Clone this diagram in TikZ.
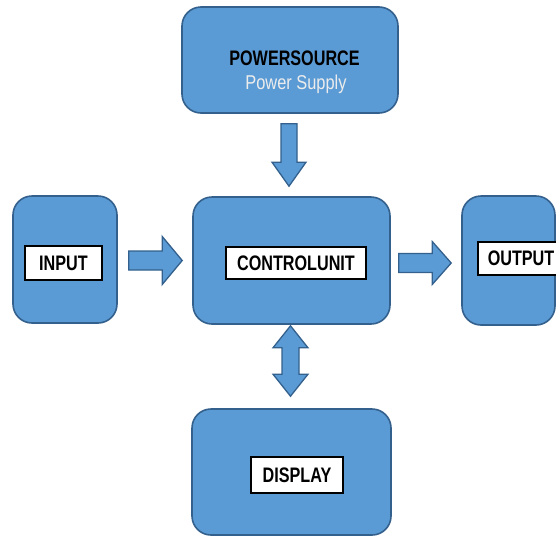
\documentclass[tikz,border=0pt]{standalone}
\usepackage{fontspec}
\setmainfont{Liberation Sans}
\newfontfamily\lblfont[FakeStretch=0.77]{Liberation Sans}
\newfontfamily\subfont[FakeStretch=0.82]{Liberation Sans}
\usetikzlibrary{calc}

\definecolor{boxblue}{HTML}{5B9BD5}
\definecolor{boxedge}{HTML}{33608C}
\definecolor{subgray}{HTML}{ECECEC}

\tikzset{
  x=1pt, y=-1pt,
  block/.style={draw=boxedge, fill=boxblue, line width=1.6pt,
    rounded corners=19pt, inner sep=0pt},
  tagbox/.style={draw=black, fill=white, line width=1.6pt, inner sep=0pt,
    font=\lblfont\bfseries\fontsize{21}{25}\selectfont, text=black},
  blockarrow/.style={draw=boxedge, fill=boxblue, line width=1.3pt, line join=miter},
}

% horizontal block arrow: #1 tail, #2 tip, #3 shaft half, #4 head half, #5 head length
\newcommand\harrowblock[5]{%
  \draw[blockarrow] let \p1=(#1), \p2=(#2) in
    (\x1,\y1+#3) -- (\x2-#5,\y1+#3) -- (\x2-#5,\y1+#4) -- (\x2,\y1)
    -- (\x2-#5,\y1-#4) -- (\x2-#5,\y1-#3) -- (\x1,\y1-#3) -- cycle;}
% downward block arrow
\newcommand\varrowblock[5]{%
  \draw[blockarrow] let \p1=(#1), \p2=(#2) in
    (\x1-#3,\y1) -- (\x1-#3,\y2+#5) -- (\x1-#4,\y2+#5) -- (\x1,\y2)
    -- (\x1+#4,\y2+#5) -- (\x1+#3,\y2+#5) -- (\x1+#3,\y1) -- cycle;}
% vertical double block arrow: #1 top tip, #2 bottom tip
\newcommand\dblarrowblock[5]{%
  \draw[blockarrow] let \p1=(#1), \p2=(#2) in
    (\x1,\y1) -- (\x1+#4,\y1-#5) -- (\x1+#3,\y1-#5) -- (\x1+#3,\y2+#5)
    -- (\x1+#4,\y2+#5) -- (\x1,\y2) -- (\x1-#4,\y2+#5) -- (\x1-#3,\y2+#5)
    -- (\x1-#3,\y1-#5) -- (\x1-#4,\y1-#5) -- cycle;}

\begin{document}
\begin{tikzpicture}
\useasboundingbox (0,0) rectangle (556,536);

% main blocks
\node[block, minimum width=216pt, minimum height=106pt] (power)   at (290,60) {};
\node[block, minimum width=104pt, minimum height=127pt] (input)   at (65,259.5) {};
\node[block, minimum width=197pt, minimum height=127pt] (control) at (291.5,260.5) {};
\node[block, minimum width=93pt,  minimum height=129pt] (output)  at (508.5,260.5) {};
\node[block, minimum width=199pt, minimum height=126pt] (display) at (291.5,472) {};

% power block text
\node[anchor=base, inner sep=0pt, font=\lblfont\bfseries\fontsize{21}{25}\selectfont]
  (powertitle) at (294.5,65) {POWERSOURCE};
\node[anchor=base, inner sep=0pt, text=subgray, font=\subfont\fontsize{20}{24}\selectfont]
  (powersub) at (296,89) {Power Supply};

% white label tags
\node[tagbox, minimum width=77pt, minimum height=34pt]  (inputtag)   at (63.5,263) {INPUT};
\node[tagbox, minimum width=140pt, minimum height=32pt] (controltag) at (296,263) {CONTROLUNIT};
\node[tagbox, anchor=west, minimum height=33pt, inner xsep=10pt] (outputtag) at (477,258.5) {OUTPUT};
\node[tagbox, minimum width=92pt, minimum height=36pt]  (displaytag) at (297,475) {DISPLAY};

% block arrows between the blocks
\coordinate (pwrtail) at ($(power.south)+(-1,10)$);
\coordinate (pwrtip)  at ($(control.north)+(-2.5,-10)$);
\varrowblock{pwrtail}{pwrtip}{8pt}{17pt}{24pt}

\coordinate (intail) at ($(input.east)+(11,1)$);
\coordinate (intip)  at ($(control.west)+(-10,0)$);
\harrowblock{intail}{intip}{9.5pt}{24pt}{20pt}

\coordinate (outtail) at ($(control.east)+(8,2.5)$);
\coordinate (outtip)  at ($(output.west)+(-10,2.5)$);
\harrowblock{outtail}{outtip}{9.5pt}{21.5pt}{19pt}

\coordinate (distop) at ($(control.south)+(-1,1)$);
\coordinate (disbot) at ($(display.north)+(-1,-12)$);
\dblarrowblock{distop}{disbot}{8.5pt}{17.5pt}{22pt}
\end{tikzpicture}
\end{document}
